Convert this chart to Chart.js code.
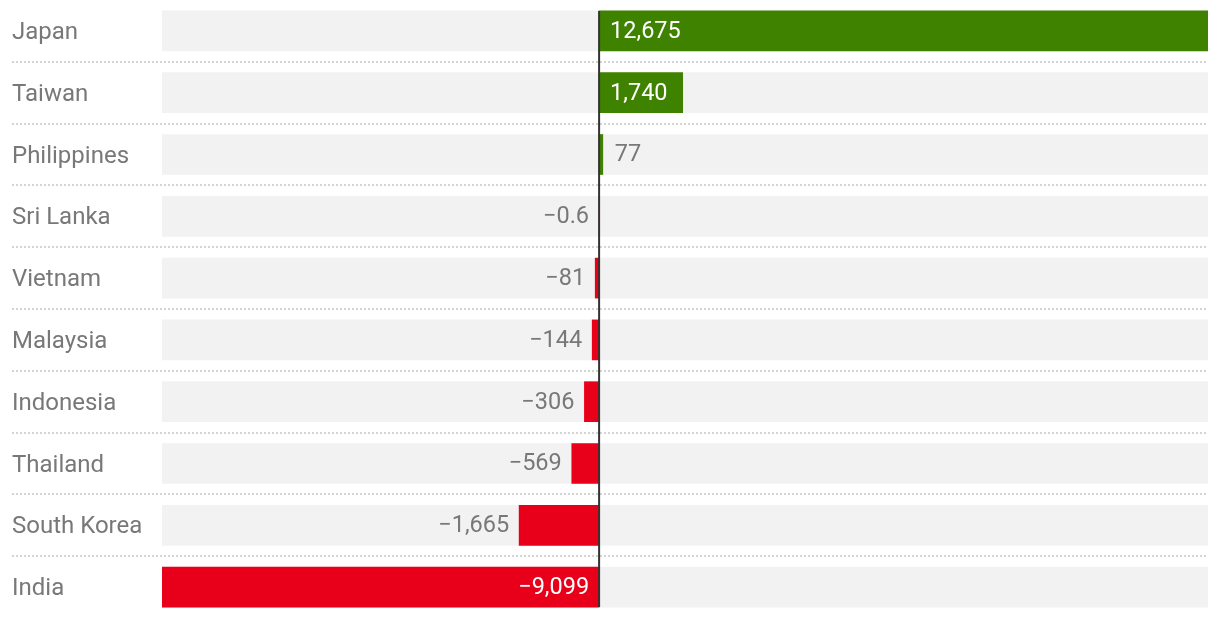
<!DOCTYPE html>
<html>
<head>
<meta charset="utf-8">
<script src="https://cdn.jsdelivr.net/npm/chart.js@4.4.1/dist/chart.umd.min.js"></script>
<style>
  html, body { margin: 0; padding: 0; background: #fff; }
  #wrap { width: 1220px; height: 618px; position: relative; }
</style>
</head>
<body>
<div id="wrap"><canvas id="grafico"></canvas></div>
<script>
// dados
const paises = ['Japan', 'Taiwan', 'Philippines', 'Sri Lanka', 'Vietnam', 'Malaysia', 'Indonesia', 'Thailand', 'South Korea', 'India'];
const valores = [12675, 1740, 77, -0.6, -81, -144, -306, -569, -1665, -9099];

const minX = Math.min(...valores);
const maxX = Math.max(...valores);
const fundo = paises.map(() => [minX, maxX]);

const verde = '#3f8200';
const vermelho = '#e8001a';
const cinzaTexto = '#787878';
const fonte = 'Roboto, "Noto Sans", sans-serif';
const tamFonte = 23.5;

function formata(v) {
  let s = Math.abs(v).toLocaleString('en-US', { maximumFractionDigits: 1 });
  return (v < 0 ? '\u2212' : '') + s;
}

// linhas pontilhadas, linha do zero e rotulos dos valores
const extras = {
  id: 'extras',
  beforeDatasetsDraw(chart) {
    const ctx = chart.ctx, y = chart.scales.y, area = chart.chartArea;
    ctx.save();
    ctx.strokeStyle = '#d4d4d4';
    ctx.lineWidth = 2;
    ctx.setLineDash([2, 2]);
    for (let i = 0; i < paises.length - 1; i++) {
      const py = Math.round((y.getPixelForTick(i) + y.getPixelForTick(i + 1)) / 2);
      ctx.beginPath();
      ctx.moveTo(12, py);
      ctx.lineTo(area.right, py);
      ctx.stroke();
    }
    ctx.restore();
  },
  afterDatasetsDraw(chart) {
    const ctx = chart.ctx, x = chart.scales.x;
    const meta = chart.getDatasetMeta(1);
    const zero = x.getPixelForValue(0);
    ctx.save();
    ctx.font = tamFonte + 'px ' + fonte;
    ctx.textBaseline = 'middle';
    meta.data.forEach((bar, i) => {
      const v = valores[i];
      const txt = formata(v);
      const w = ctx.measureText(txt).width;
      const len = Math.abs(bar.x - zero);
      const dentro = len > w + 24;
      if (v >= 0) {
        ctx.textAlign = 'left';
        if (dentro) { ctx.fillStyle = '#fff'; ctx.fillText(txt, zero + 11, bar.y + 1); }
        else { ctx.fillStyle = cinzaTexto; ctx.fillText(txt, bar.x + 12, bar.y + 1); }
      } else {
        ctx.textAlign = 'right';
        if (dentro) { ctx.fillStyle = '#fff'; ctx.fillText(txt, zero - 10, bar.y + 1); }
        else { ctx.fillStyle = cinzaTexto; ctx.fillText(txt, bar.x - 10, bar.y + 1); }
      }
    });
    // linha do zero
    const first = meta.data[0], last = meta.data[meta.data.length - 1];
    ctx.strokeStyle = '#333333';
    ctx.lineWidth = 2;
    ctx.beginPath();
    ctx.moveTo(zero, first.y - 20);
    ctx.lineTo(zero, last.y + 20);
    ctx.stroke();
    ctx.restore();
  }
};

new Chart(document.getElementById('grafico'), {
  type: 'bar',
  data: {
    labels: paises,
    datasets: [
      {
        data: fundo,
        backgroundColor: '#f2f2f2',
        grouped: false,
        order: 2,
        barThickness: 40
      },
      {
        data: valores,
        backgroundColor: valores.map(v => v >= 0 ? verde : vermelho),
        grouped: false,
        order: 1,
        barThickness: 40
      }
    ]
  },
  options: {
    indexAxis: 'y',
    responsive: true,
    maintainAspectRatio: false,
    animation: false,
    layout: { padding: { left: 12, right: 12, top: -1, bottom: -1 } },
    plugins: { legend: { display: false }, tooltip: { enabled: false } },
    scales: {
      x: {
        display: false,
        min: minX,
        max: maxX
      },
      y: {
        afterFit(scale) {
          scale.width = 150;
          scale.paddingTop = 0;
          scale.paddingBottom = 0;
        },
        grid: { display: false },
        border: { display: false },
        ticks: {
          crossAlign: 'far',
          padding: 0,
          labelOffset: 2,
          color: cinzaTexto,
          font: { family: fonte, size: 24 }
        }
      }
    }
  },
  plugins: [extras]
});
</script>
</body>
</html>
